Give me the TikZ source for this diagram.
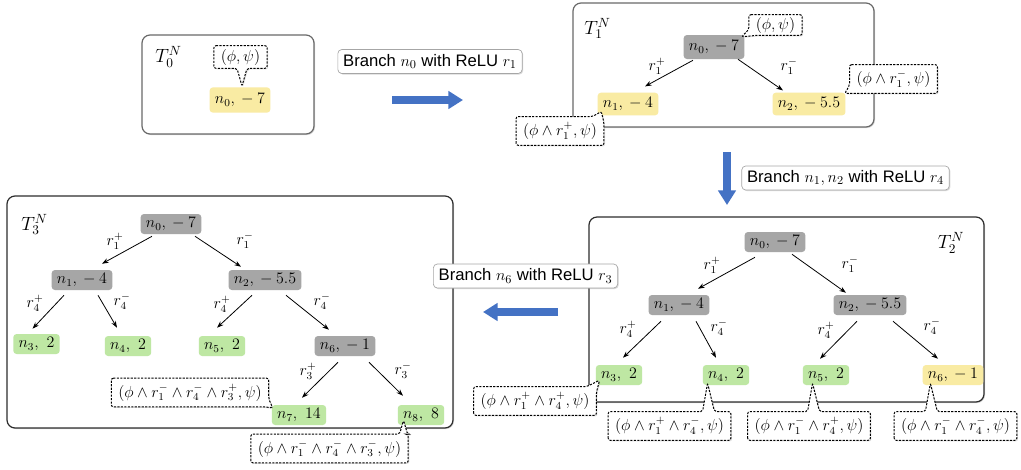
\documentclass[tikz,border=0pt]{standalone}
\usepackage{fontspec}
\newfontfamily\lblfont{Liberation Sans}
\usetikzlibrary{arrows.meta,calc,fit,shadows}
\pgfdeclarelayer{back}
\pgfdeclarelayer{front}
\pgfdeclarelayer{top}
\pgfsetlayers{back,main,front,top}
\definecolor{nyellow}{RGB}{249,235,163}
\definecolor{ngreen}{RGB}{190,231,163}
\definecolor{ngray}{RGB}{166,166,166}
\definecolor{ablue}{RGB}{68,114,196}
\definecolor{boxlight}{RGB}{105,105,105}
\definecolor{boxdark}{RGB}{45,45,45}
\begin{document}
\begin{tikzpicture}[x=0.75pt,y=-0.75pt,
  treebox/.style={draw=#1, line width=0.9pt, rounded corners=6pt, fill=white, inner sep=0pt,
    drop shadow={shadow xshift=0.8pt,shadow yshift=-0.8pt,opacity=0.3}},
  tn/.style={fill=#1, rounded corners=2.5pt, inner xsep=4pt, inner ysep=0pt, minimum height=15pt,
    font=\fontsize{12}{14}\selectfont},
  rl/.style={inner sep=0pt, font=\fontsize{12}{14}\selectfont},
  tlab/.style={inner sep=0pt, font=\fontsize{14.4}{16}\selectfont},
  cotext/.style={inner xsep=5pt, inner ysep=0pt, minimum height=21pt, font=\fontsize{12}{14}\selectfont},
  coline/.style={draw, line width=0.75pt, dash pattern=on 1.6pt off 1pt, fill=white, rounded corners=1.5pt,
    drop shadow={shadow xshift=0.8pt,shadow yshift=-0.8pt,opacity=0.25}},
  lbl/.style={draw=black!35, line width=0.5pt, fill=white, rounded corners=3pt, inner xsep=4pt, inner ysep=0pt,
    minimum height=18pt, font=\lblfont\fontsize{12.5}{14}\selectfont,
    drop shadow={shadow xshift=0.8pt,shadow yshift=-0.8pt,opacity=0.3}},
  edge/.style={draw, line width=0.6pt, -{Stealth[length=5pt,width=3.6pt]}},
  barrow/.style={draw=ablue, line width=6pt, -{Triangle[length=11pt,width=13pt]}}
]
\useasboundingbox (0,0) rectangle (1021,469);

% tree boxes
\begin{pgfonlayer}{back}
\node[treebox=boxlight, fit={(142,35) (314,134)}] (T0) {};
\node[treebox=boxlight, fit={(573,3) (874,127)}] (T1) {};
\node[treebox=boxdark, fit={(589,217) (984,402)}] (T2) {};
\node[treebox=boxdark, fit={(7,196) (453,428)}] (T3) {};
\end{pgfonlayer}

% tree labels
\node[tlab] (T0l) at (168.5,57) {$T_0^N$};
\node[tlab] (T1l) at (597.5,28.5) {$T_1^N$};
\node[tlab] (T2l) at (951,243) {$T_2^N$};
\node[tlab] (T3l) at (34.5,224.5) {$T_3^N$};

% T0
\node[tn=nyellow, minimum height=19pt] (t0n0) at (240,100) {$n_0,{}-7$};

% T1
\node[tn=ngray, minimum height=18pt] (t1n0) at (714,47) {$n_0,{}-7$};
\node[tn=nyellow, minimum height=17pt] (t1n1) at (628,104) {$n_1,{}-4$};
\node[tn=nyellow, minimum height=17pt] (t1n2) at (809,104) {$n_2,{}-5.5$};
\node[rl] (t1r1p) at (657,66) {$r_1^+$};
\node[rl] (t1r1m) at (789,66) {$r_1^-$};
\draw[edge] ($(t1n0.south)+(-21,1)$) -- ($(t1n1.north)+(17,-6)$);
\draw[edge] ($(t1n0.south)+(24,0)$) -- ($(t1n2.north)+(-26,-2)$);

% T2
\node[tn=ngray] (t2n0) at (775,242) {$n_0,{}-7$};
\node[tn=ngray] (t2n1) at (679,305) {$n_1,{}-4$};
\node[tn=ngray] (t2n2) at (870,305) {$n_2,{}-5.5$};
\node[tn=ngreen] (t2n3) at (619,375) {$n_3,\ 2$};
\node[tn=ngreen] (t2n4) at (726,375) {$n_4,\ 2$};
\node[tn=ngreen] (t2n5) at (826,375) {$n_5,\ 2$};
\node[tn=nyellow] (t2n6) at (953,375) {$n_6,{}-1$};
\node[rl] (t2r1p) at (712,265) {$r_1^+$};
\node[rl] (t2r1m) at (850,264) {$r_1^-$};
\node[rl] (t2r4pa) at (628,329) {$r_4^+$};
\node[rl] (t2r4ma) at (719,327) {$r_4^-$};
\node[rl] (t2r4pb) at (826,330) {$r_4^+$};
\node[rl] (t2r4mb) at (932,326) {$r_4^-$};
\draw[edge] ($(t2n0.south)+(-20,5)$) -- ($(t2n1.north)+(19,-6)$);
\draw[edge] ($(t2n0.south)+(17,2)$) -- ($(t2n2.north)+(-24,-2)$);
\draw[edge] ($(t2n1.south)+(-18,6)$) -- ($(t2n3.north)+(4,-7)$);
\draw[edge] ($(t2n1.south)+(17,6)$) -- ($(t2n4.north)+(-10,-7)$);
\draw[edge] ($(t2n2.south)+(-13,6)$) -- ($(t2n5.north)+(-6,-6)$);
\draw[edge] ($(t2n2.south)+(23,6)$) -- ($(t2n6.north)+(-15,-6)$);

% T3
\node[tn=ngray] (t3n0) at (171,224) {$n_0,{}-7$};
\node[tn=ngray] (t3n1) at (82,280) {$n_1,{}-4$};
\node[tn=ngray] (t3n2) at (265,280) {$n_2,{}-5.5$};
\node[tn=ngreen] (t3n3) at (36.5,344) {$n_3,\ 2$};
\node[tn=ngreen] (t3n4) at (128,346) {$n_4,\ 2$};
\node[tn=ngreen] (t3n5) at (222,346) {$n_5,\ 2$};
\node[tn=ngray] (t3n6) at (345,346) {$n_6,{}-1$};
\node[tn=ngreen] (t3n7) at (299,415) {$n_7,\ 14$};
\node[tn=ngreen] (t3n8) at (421,415) {$n_8,\ 8$};
\node[rl] (t3r1p) at (115,241) {$r_1^+$};
\node[rl] (t3r1m) at (245,240) {$r_1^-$};
\node[rl] (t3r4pa) at (35,303) {$r_4^+$};
\node[rl] (t3r4ma) at (122,301) {$r_4^-$};
\node[rl] (t3r4pb) at (222,304) {$r_4^+$};
\node[rl] (t3r4mb) at (322,301) {$r_4^-$};
\node[rl] (t3r3p) at (308,371) {$r_3^+$};
\node[rl] (t3r3m) at (403,370) {$r_3^-$};
\draw[edge] ($(t3n0.south)+(-19,2)$) -- ($(t3n1.north)+(20,-6)$);
\draw[edge] ($(t3n0.south)+(24,2)$) -- ($(t3n2.north)+(-24,-3)$);
\draw[edge] ($(t3n1.south)+(-18,5)$) -- ($(t3n3.north)+(-4,-5)$);
\draw[edge] ($(t3n1.south)+(16,5)$) -- ($(t3n4.north)+(-11,-8)$);
\draw[edge] ($(t3n2.south)+(-13,5)$) -- ($(t3n5.north)+(-5,-8)$);
\draw[edge] ($(t3n2.south)+(21,5)$) -- ($(t3n6.north)+(-16,-6)$);
\draw[edge] ($(t3n6.south)+(-7,6)$) -- ($(t3n7.north)+(3,-7)$);
\draw[edge] ($(t3n6.south)+(24,6)$) -- ($(t3n8.north)+(-18,-9)$);

% branch labels and blue arrows
\node[lbl] (b1) at (430,61.5) {Branch $n_0$ with ReLU $r_1$};
\node[lbl] (b2) at (845.5,178) {Branch $n_1, n_2$ with ReLU $r_4$};
\node[lbl] (b3) at (525.5,276) {Branch $n_6$ with ReLU $r_3$};
\coordinate (a1s) at (392,100); \coordinate (a1e) at (463,100);
\coordinate (a2s) at (727,152); \coordinate (a2e) at (727,205);
\coordinate (a3s) at (558,312); \coordinate (a3e) at (483,312);
\draw[barrow] (a1s) -- (a1e);
\draw[barrow] (a2s) -- (a2e);
\draw[barrow] (a3s) -- (a3e);

% callout texts
\begin{pgfonlayer}{top}
\node[cotext, minimum height=16.5pt] (c0) at (240.5,57) {$(\phi,\psi)$};
\node[cotext, minimum height=15pt] (c1a) at (775.5,25) {$(\phi,\psi)$};
\node[cotext] (c1b) at (560,131) {$(\phi\wedge r_1^+,\psi)$};
\node[cotext] (c1c) at (893.5,79) {$(\phi\wedge r_1^-,\psi)$};
\node[cotext] (c2a) at (535,401) {$(\phi\wedge r_1^+\wedge r_4^+,\psi)$};
\node[cotext] (c2b) at (669.5,426) {$(\phi\wedge r_1^+\wedge r_4^-,\psi)$};
\node[cotext] (c2c) at (809,426) {$(\phi\wedge r_1^-\wedge r_4^+,\psi)$};
\node[cotext] (c2d) at (955.5,426) {$(\phi\wedge r_1^-\wedge r_4^-,\psi)$};
\node[cotext] (c3a) at (190,392.5) {$(\phi\wedge r_1^-\wedge r_4^-\wedge r_3^+,\psi)$};
\node[cotext] (c3b) at (329.5,448.5) {$(\phi\wedge r_1^-\wedge r_4^-\wedge r_3^-,\psi)$};
\end{pgfonlayer}

% callout tips
\coordinate (tp0) at ($(t0n0.north)+(2,-1)$);
\coordinate (tp1a) at ($(t1n0.north east)+(-3,2)$);
\coordinate (tp1b) at ($(t1n1.south west)+(4,-4)$);
\coordinate (tp1c) at ($(t1n2.north east)+(-1,1)$);
\coordinate (tp2a) at ($(t2n3.south west)+(4,-5)$);
\coordinate (tp2b) at ($(t2n4.south west)+(5,-2)$);
\coordinate (tp2c) at ($(t2n5.south west)+(10,-2)$);
\coordinate (tp2d) at ($(t2n6.south west)+(8,-2)$);
\coordinate (tp3a) at ($(t3n7.north west)+(1,3)$);
\coordinate (tp3b) at ($(t3n8.south west)+(6,-5)$);

% callout outlines
\begin{pgfonlayer}{front}
\draw[coline] (c0.north west) -- (c0.north east) -- (c0.south east)
  -- ($(c0.south west)!(tp0)!(c0.south east)+(5,0)$) -- (tp0)
  -- ($(c0.south west)!(tp0)!(c0.south east)+(-5,0)$) -- (c0.south west) -- cycle;
\draw[coline] (c1a.north west) -- (c1a.north east) -- (c1a.south east)
  -- ($(c1a.south west)+(9,0)$) -- (tp1a) -- ($(c1a.south west)+(0,-6)$) -- cycle;
\draw[coline] (c1b.south west) -- (c1b.north west) -- ($(c1b.north east)+(-12,0)$)
  -- (tp1b) -- ($(c1b.north east)+(0,6)$) -- (c1b.south east) -- cycle;
\draw[coline] (c1c.north west) -- (c1c.north east) -- (c1c.south east)
  -- ($(c1c.south west)+(12,0)$) -- (tp1c) -- ($(c1c.south west)+(0,-8)$) -- cycle;
\draw[coline] (c2a.south west) -- (c2a.north west) -- ($(c2a.north east)+(-10,0)$)
  -- (tp2a) -- ($(c2a.north east)+(0,6)$) -- (c2a.south east) -- cycle;
\draw[coline] (c2b.south west) -- (c2b.north west)
  -- ($(c2b.north west)!(tp2b)!(c2b.north east)+(-5,0)$) -- (tp2b)
  -- ($(c2b.north west)!(tp2b)!(c2b.north east)+(7,0)$) -- (c2b.north east) -- (c2b.south east) -- cycle;
\draw[coline] (c2c.south west) -- (c2c.north west)
  -- ($(c2c.north west)!(tp2c)!(c2c.north east)+(-5,0)$) -- (tp2c)
  -- ($(c2c.north west)!(tp2c)!(c2c.north east)+(7,0)$) -- (c2c.north east) -- (c2c.south east) -- cycle;
\draw[coline] (c2d.south west) -- (c2d.north west)
  -- ($(c2d.north west)!(tp2d)!(c2d.north east)+(-5,0)$) -- (tp2d)
  -- ($(c2d.north west)!(tp2d)!(c2d.north east)+(7,0)$) -- (c2d.north east) -- (c2d.south east) -- cycle;
\draw[coline] (c3a.north west) -- (c3a.north east) -- ($(c3a.south east)+(0,-8)$)
  -- (tp3a) -- ($(c3a.south east)+(-6,0)$) -- (c3a.south west) -- cycle;
\draw[coline] (c3b.south west) -- (c3b.north west)
  -- ($(c3b.north west)!(tp3b)!(c3b.north east)+(-4,0)$) -- (tp3b)
  -- ($(c3b.north west)!(tp3b)!(c3b.north east)+(4,0)$) -- (c3b.north east) -- (c3b.south east) -- cycle;
\end{pgfonlayer}
\end{tikzpicture}
\end{document}
